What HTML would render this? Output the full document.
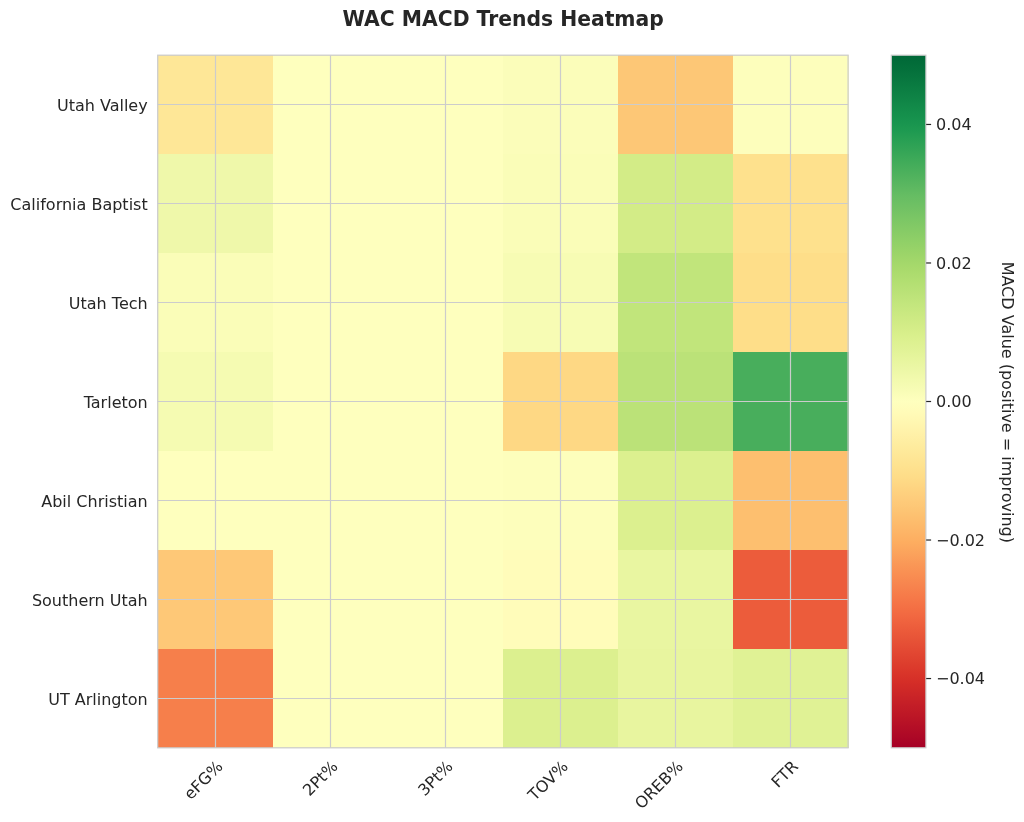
<!DOCTYPE html>
<html lang="en"><head><meta charset="utf-8"><title>WAC MACD Trends Heatmap</title>
<style>html,body{margin:0;padding:0;background:#fff;}body{width:1024px;height:822px;overflow:hidden;}svg{display:block;}text{font-family:"DejaVu Sans","Liberation Sans",sans-serif;fill:#262626;}</style>
</head><body>
<svg width="1024" height="822" viewBox="0 0 1024 822">
<rect x="0" y="0" width="1024" height="822" fill="#ffffff"/>
<defs><linearGradient id="cb" x1="0" y1="1" x2="0" y2="0">
<stop offset="0.0000" stop-color="#a50026"/>
<stop offset="0.0156" stop-color="#ad0826"/>
<stop offset="0.0312" stop-color="#b50f26"/>
<stop offset="0.0469" stop-color="#bd1726"/>
<stop offset="0.0625" stop-color="#c41e27"/>
<stop offset="0.0781" stop-color="#cc2627"/>
<stop offset="0.0938" stop-color="#d42d27"/>
<stop offset="0.1094" stop-color="#da362a"/>
<stop offset="0.1250" stop-color="#de402e"/>
<stop offset="0.1406" stop-color="#e34933"/>
<stop offset="0.1562" stop-color="#e75337"/>
<stop offset="0.1719" stop-color="#ec5c3b"/>
<stop offset="0.1875" stop-color="#f16640"/>
<stop offset="0.2031" stop-color="#f47044"/>
<stop offset="0.2188" stop-color="#f67a49"/>
<stop offset="0.2344" stop-color="#f7844e"/>
<stop offset="0.2500" stop-color="#f98e52"/>
<stop offset="0.2656" stop-color="#fa9857"/>
<stop offset="0.2812" stop-color="#fba35c"/>
<stop offset="0.2969" stop-color="#fdad60"/>
<stop offset="0.3125" stop-color="#fdb567"/>
<stop offset="0.3281" stop-color="#fdbd6d"/>
<stop offset="0.3438" stop-color="#fdc574"/>
<stop offset="0.3594" stop-color="#fecc7b"/>
<stop offset="0.3750" stop-color="#fed481"/>
<stop offset="0.3906" stop-color="#fedc88"/>
<stop offset="0.4062" stop-color="#fee28f"/>
<stop offset="0.4219" stop-color="#fee797"/>
<stop offset="0.4375" stop-color="#feec9f"/>
<stop offset="0.4531" stop-color="#fff1a8"/>
<stop offset="0.4688" stop-color="#fff6b0"/>
<stop offset="0.4844" stop-color="#fffbb8"/>
<stop offset="0.5000" stop-color="#feffbe"/>
<stop offset="0.5156" stop-color="#f8fcb6"/>
<stop offset="0.5312" stop-color="#f2faae"/>
<stop offset="0.5469" stop-color="#ecf7a6"/>
<stop offset="0.5625" stop-color="#e6f59d"/>
<stop offset="0.5781" stop-color="#e0f295"/>
<stop offset="0.5938" stop-color="#daf08d"/>
<stop offset="0.6094" stop-color="#d3ec87"/>
<stop offset="0.6250" stop-color="#cbe982"/>
<stop offset="0.6406" stop-color="#c3e67d"/>
<stop offset="0.6562" stop-color="#bbe278"/>
<stop offset="0.6719" stop-color="#b3df72"/>
<stop offset="0.6875" stop-color="#abdb6d"/>
<stop offset="0.7031" stop-color="#a2d76a"/>
<stop offset="0.7188" stop-color="#98d368"/>
<stop offset="0.7344" stop-color="#8ecf67"/>
<stop offset="0.7500" stop-color="#84ca66"/>
<stop offset="0.7656" stop-color="#7ac665"/>
<stop offset="0.7812" stop-color="#70c164"/>
<stop offset="0.7969" stop-color="#66bd63"/>
<stop offset="0.8125" stop-color="#5ab760"/>
<stop offset="0.8281" stop-color="#4eb15d"/>
<stop offset="0.8438" stop-color="#42ac5a"/>
<stop offset="0.8594" stop-color="#36a657"/>
<stop offset="0.8750" stop-color="#2aa054"/>
<stop offset="0.8906" stop-color="#1e9a51"/>
<stop offset="0.9062" stop-color="#17934e"/>
<stop offset="0.9219" stop-color="#138c4a"/>
<stop offset="0.9375" stop-color="#0f8446"/>
<stop offset="0.9531" stop-color="#0b7d42"/>
<stop offset="0.9688" stop-color="#07753e"/>
<stop offset="0.9844" stop-color="#036e3a"/>
<stop offset="1.0000" stop-color="#006837"/>
</linearGradient></defs>
<text x="503.20" y="26.00" text-anchor="middle" font-size="20.32" font-weight="bold">WAC MACD Trends Heatmap</text>
<g shape-rendering="crispEdges">
<rect x="157.70" y="55.20" width="115.57" height="99.44" fill="#fee797"/>
<rect x="272.77" y="55.20" width="115.57" height="99.44" fill="#feffbe"/>
<rect x="387.83" y="55.20" width="115.57" height="99.44" fill="#feffbe"/>
<rect x="502.90" y="55.20" width="115.57" height="99.44" fill="#fbfdba"/>
<rect x="617.97" y="55.20" width="115.57" height="99.44" fill="#fdc776"/>
<rect x="733.03" y="55.20" width="115.57" height="99.44" fill="#fdfebc"/>
<rect x="157.70" y="154.14" width="115.57" height="99.44" fill="#eff8aa"/>
<rect x="272.77" y="154.14" width="115.57" height="99.44" fill="#feffbe"/>
<rect x="387.83" y="154.14" width="115.57" height="99.44" fill="#feffbe"/>
<rect x="502.90" y="154.14" width="115.57" height="99.44" fill="#fafdb8"/>
<rect x="617.97" y="154.14" width="115.57" height="99.44" fill="#d3ec87"/>
<rect x="733.03" y="154.14" width="115.57" height="99.44" fill="#fee18d"/>
<rect x="157.70" y="253.09" width="115.57" height="99.44" fill="#fafdb8"/>
<rect x="272.77" y="253.09" width="115.57" height="99.44" fill="#feffbe"/>
<rect x="387.83" y="253.09" width="115.57" height="99.44" fill="#feffbe"/>
<rect x="502.90" y="253.09" width="115.57" height="99.44" fill="#f7fcb4"/>
<rect x="617.97" y="253.09" width="115.57" height="99.44" fill="#c1e57b"/>
<rect x="733.03" y="253.09" width="115.57" height="99.44" fill="#fede89"/>
<rect x="157.70" y="352.03" width="115.57" height="99.44" fill="#f5fbb2"/>
<rect x="272.77" y="352.03" width="115.57" height="99.44" fill="#feffbe"/>
<rect x="387.83" y="352.03" width="115.57" height="99.44" fill="#feffbe"/>
<rect x="502.90" y="352.03" width="115.57" height="99.44" fill="#fed884"/>
<rect x="617.97" y="352.03" width="115.57" height="99.44" fill="#bbe278"/>
<rect x="733.03" y="352.03" width="115.57" height="99.44" fill="#48ae5c"/>
<rect x="157.70" y="450.97" width="115.57" height="99.44" fill="#feffbe"/>
<rect x="272.77" y="450.97" width="115.57" height="99.44" fill="#feffbe"/>
<rect x="387.83" y="450.97" width="115.57" height="99.44" fill="#feffbe"/>
<rect x="502.90" y="450.97" width="115.57" height="99.44" fill="#fdfebc"/>
<rect x="617.97" y="450.97" width="115.57" height="99.44" fill="#dcf08f"/>
<rect x="733.03" y="450.97" width="115.57" height="99.44" fill="#fdbf6f"/>
<rect x="157.70" y="549.91" width="115.57" height="99.44" fill="#fec877"/>
<rect x="272.77" y="549.91" width="115.57" height="99.44" fill="#feffbe"/>
<rect x="387.83" y="549.91" width="115.57" height="99.44" fill="#feffbe"/>
<rect x="502.90" y="549.91" width="115.57" height="99.44" fill="#fffcba"/>
<rect x="617.97" y="549.91" width="115.57" height="99.44" fill="#e9f6a1"/>
<rect x="733.03" y="549.91" width="115.57" height="99.44" fill="#ec5c3b"/>
<rect x="157.70" y="648.86" width="115.57" height="99.44" fill="#f67f4b"/>
<rect x="272.77" y="648.86" width="115.57" height="99.44" fill="#feffbe"/>
<rect x="387.83" y="648.86" width="115.57" height="99.44" fill="#feffbe"/>
<rect x="502.90" y="648.86" width="115.57" height="99.44" fill="#dcf08f"/>
<rect x="617.97" y="648.86" width="115.57" height="99.44" fill="#e8f59f"/>
<rect x="733.03" y="648.86" width="115.57" height="99.44" fill="#e0f295"/>
</g>
<g stroke="#cccccc" stroke-width="1.20" fill="none">
<line x1="215.50" y1="55.20" x2="215.50" y2="747.80"/>
<line x1="330.50" y1="55.20" x2="330.50" y2="747.80"/>
<line x1="445.50" y1="55.20" x2="445.50" y2="747.80"/>
<line x1="560.50" y1="55.20" x2="560.50" y2="747.80"/>
<line x1="675.50" y1="55.20" x2="675.50" y2="747.80"/>
<line x1="790.50" y1="55.20" x2="790.50" y2="747.80"/>
<line x1="157.70" y1="104.50" x2="848.10" y2="104.50"/>
<line x1="157.70" y1="203.50" x2="848.10" y2="203.50"/>
<line x1="157.70" y1="302.50" x2="848.10" y2="302.50"/>
<line x1="157.70" y1="401.50" x2="848.10" y2="401.50"/>
<line x1="157.70" y1="500.50" x2="848.10" y2="500.50"/>
<line x1="157.70" y1="599.50" x2="848.10" y2="599.50"/>
<line x1="157.70" y1="698.50" x2="848.10" y2="698.50"/>
</g>
<rect x="157.70" y="55.20" width="690.40" height="692.60" fill="none" stroke="#cccccc" stroke-width="1.25"/>
<text x="147.70" y="111.00" text-anchor="end" font-size="16.00">Utah Valley</text>
<text x="147.70" y="210.00" text-anchor="end" font-size="16.00">California Baptist</text>
<text x="147.70" y="309.00" text-anchor="end" font-size="16.00">Utah Tech</text>
<text x="147.70" y="408.00" text-anchor="end" font-size="16.00">Tarleton</text>
<text x="147.70" y="507.00" text-anchor="end" font-size="16.00">Abil Christian</text>
<text x="147.70" y="606.00" text-anchor="end" font-size="16.00">Southern Utah</text>
<text x="147.70" y="705.00" text-anchor="end" font-size="16.00">UT Arlington</text>
<text transform="translate(215.13,758.90) rotate(-45)" x="0" y="12.16" text-anchor="end" font-size="16.00">eFG%</text>
<text transform="translate(330.20,758.90) rotate(-45)" x="0" y="12.16" text-anchor="end" font-size="16.00">2Pt%</text>
<text transform="translate(445.27,758.90) rotate(-45)" x="0" y="12.16" text-anchor="end" font-size="16.00">3Pt%</text>
<text transform="translate(560.33,758.90) rotate(-45)" x="0" y="12.16" text-anchor="end" font-size="16.00">TOV%</text>
<text transform="translate(675.40,758.90) rotate(-45)" x="0" y="12.16" text-anchor="end" font-size="16.00">OREB%</text>
<text transform="translate(790.47,758.90) rotate(-45)" x="0" y="12.16" text-anchor="end" font-size="16.00">FTR</text>
<rect x="891.30" y="55.20" width="34.60" height="692.60" fill="url(#cb)" stroke="#cccccc" stroke-width="1.2"/>
<line x1="926.20" y1="124.46" x2="931.10" y2="124.46" stroke="#262626" stroke-width="1.2"/>
<text x="936.00" y="130.00" font-size="16.00">0.04</text>
<line x1="926.20" y1="262.98" x2="931.10" y2="262.98" stroke="#262626" stroke-width="1.2"/>
<text x="936.00" y="269.00" font-size="16.00">0.02</text>
<line x1="926.20" y1="401.50" x2="931.10" y2="401.50" stroke="#262626" stroke-width="1.2"/>
<text x="936.00" y="407.00" font-size="16.00">0.00</text>
<line x1="926.20" y1="540.02" x2="931.10" y2="540.02" stroke="#262626" stroke-width="1.2"/>
<text x="936.00" y="546.00" font-size="16.00">−0.02</text>
<line x1="926.20" y1="678.54" x2="931.10" y2="678.54" stroke="#262626" stroke-width="1.2"/>
<text x="936.00" y="684.00" font-size="16.00">−0.04</text>
<text transform="translate(1002.00,402.30) rotate(90)" x="0" y="0" text-anchor="middle" font-size="16.00">MACD Value (positive = improving)</text>
</svg></body></html>
